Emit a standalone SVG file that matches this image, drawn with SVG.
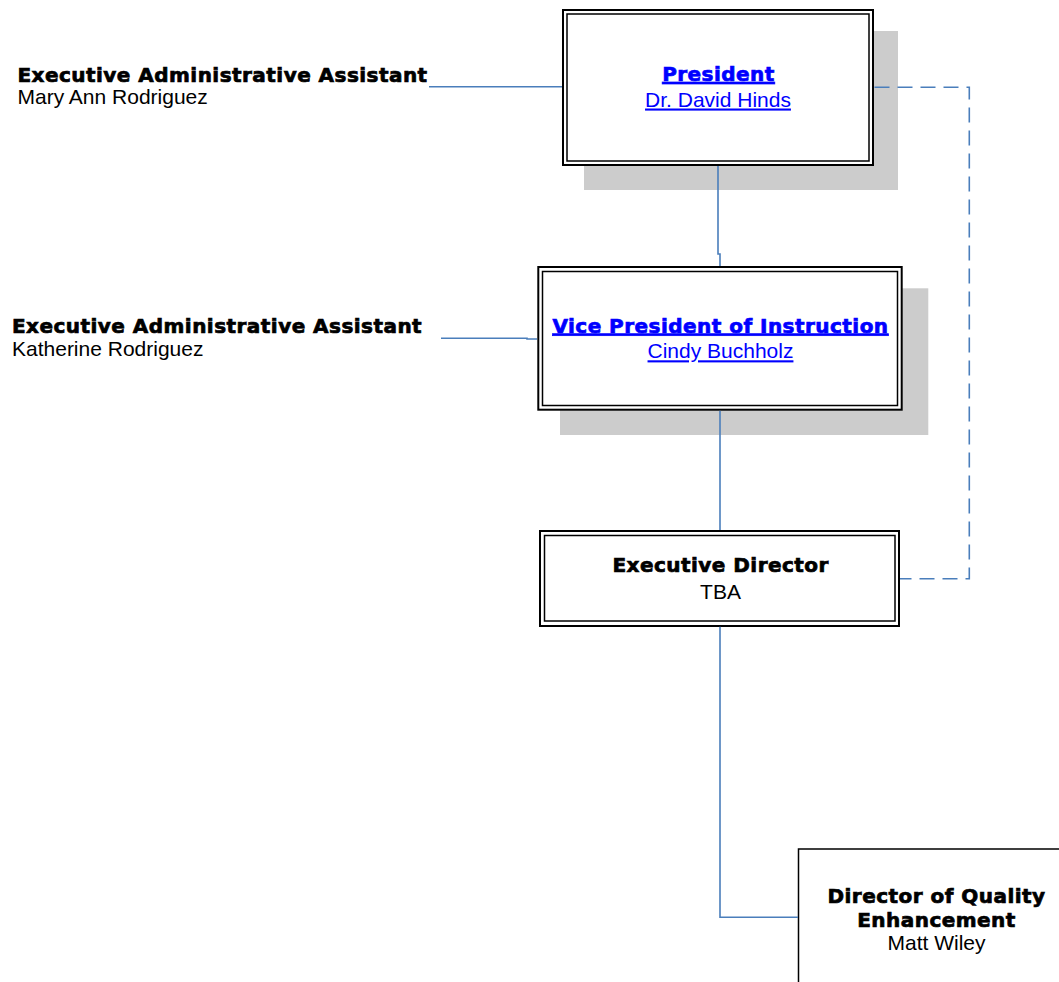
<svg xmlns="http://www.w3.org/2000/svg" width="1059" height="982" viewBox="0 0 1059 982">
<style>
.b{font-family:"DejaVu Sans",sans-serif;font-weight:bold;font-size:20px;letter-spacing:0.46px;fill:#000;stroke:#000;stroke-width:0.7px}
.r{font-family:"Liberation Sans",Arial,sans-serif;font-size:21px;fill:#000}
.lk{fill:#0000ff;text-decoration:underline}
.b.lk{stroke:#0000ff}
.c{text-anchor:middle}
.o{fill:#fff;stroke:#000;stroke-width:2}
.i{fill:none;stroke:#000;stroke-width:1.5}
.sh{fill:#cccccc}
.ln{fill:none;stroke:#4a7ebb;stroke-width:1.6}
.dash{stroke-dasharray:15 8}
</style>
<rect width="1059" height="982" fill="#fff"/>
<g id="assistant1">
<text class="b" x="17.5" y="82">Executive Administrative Assistant</text>
<text class="r" x="17.5" y="104.3">Mary Ann Rodriguez</text>
</g>
<g id="assistant2">
<text class="b" x="12" y="333">Executive Administrative Assistant</text>
<text class="r" x="12" y="355.5">Katherine Rodriguez</text>
</g>
<g id="president">
<rect class="sh" x="584" y="31" width="314" height="159"/>
<rect class="o" x="563" y="10" width="310" height="155"/>
<rect class="i" x="567" y="14" width="302" height="147"/>
<text class="b lk c" x="718.5" y="81">President</text>
<text class="r lk c" x="718" y="106.5">Dr. David Hinds</text>
</g>
<g id="vp">
<rect class="sh" x="560" y="288.3" width="368.3" height="146.7"/>
<rect class="o" x="538.3" y="267" width="363.4" height="142.7"/>
<rect class="i" x="542.5" y="271.5" width="355" height="134"/>
<text class="b lk c" x="720.5" y="332.7">Vice President of Instruction</text>
<text class="r lk c" x="720.5" y="358.3">Cindy Buchholz</text>
</g>
<g id="execdir">
<rect class="o" x="540" y="531" width="359" height="95"/>
<rect class="i" x="544.5" y="535.5" width="350.5" height="85.5"/>
<text class="b c" x="720.7" y="572.3">Executive Director</text>
<text class="r c" x="720.5" y="599">TBA</text>
</g>
<g id="dqe">
<rect fill="#fff" stroke="#000" stroke-width="1.5" x="798.5" y="849" width="300" height="200"/>
<text class="b c" x="936.5" y="902.7">Director of Quality</text>
<text class="b c" x="936.5" y="927.3">Enhancement</text>
<text class="r c" x="936.5" y="950">Matt Wiley</text>
</g>
<g id="connectors">
<path class="ln" d="M429,86.7 H562"/>
<path class="ln" d="M441,338.3 H527 V339 H537"/>
<path class="ln" d="M718,166 V254 H720 V266"/>
<path class="ln" d="M720,410.7 V530"/>
<path class="ln" d="M720,626.7 V917.3 H798"/>
<path class="ln dash" d="M874.5,87.3 H969.3 V578.7 H900"/>
</g>
</svg>
